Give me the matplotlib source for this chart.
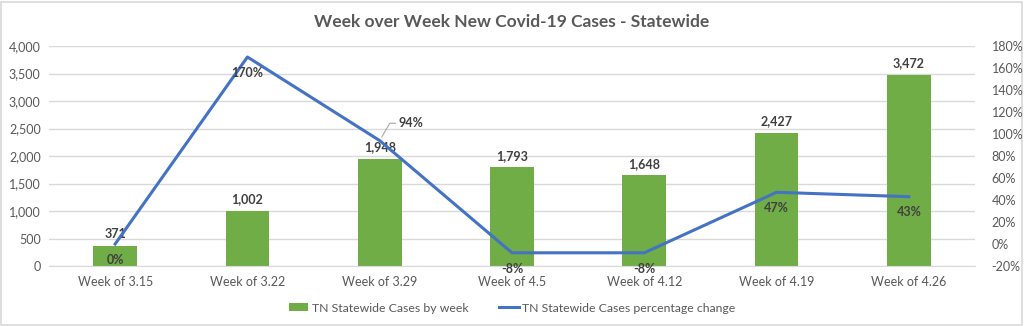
import matplotlib
matplotlib.use("Agg")
import matplotlib.pyplot as plt
from matplotlib.patches import Rectangle
from matplotlib.ticker import FuncFormatter

categories = ["Week of 3.15", "Week of 3.22", "Week of 3.29", "Week of 4.5",
              "Week of 4.12", "Week of 4.19", "Week of 4.26"]
cases = [371, 1002, 1948, 1793, 1648, 2427, 3472]
pct_change = [0, 170, 94, -8, -8, 47, 43]
left_ticks = [0, 500, 1000, 1500, 2000, 2500, 3000, 3500, 4000]
right_ticks = [-20, 0, 20, 40, 60, 80, 100, 120, 140, 160, 180]

FONT = ["Lato", "DejaVu Sans"]
plt.rcParams['font.family'] = FONT
TXT = "#595959"
LBL = "#404040"
GREEN = "#70AD47"
BLUE = "#4472C4"
GRID = "#D9D9D9"

fig = plt.figure(figsize=(10.24, 3.26), dpi=100)
W, H = 1024, 326
ax = fig.add_axes([49 / W, (H - 266) / H, (975 - 49) / W, (266 - 46) / H])
ax2 = ax.twinx()

x = list(range(len(categories)))
bars = ax.bar(x, cases, width=0.33, color=GREEN, zorder=2,
              label="TN Statewide Cases by week")
ax.set_ylim(0, 4000)
ax.set_xlim(-0.5, len(categories) - 0.5)
ax.set_yticks(left_ticks)
ax.yaxis.set_major_formatter(FuncFormatter(lambda v, p: f"{int(v):,}"))
ax.set_xticks(x)
ax.set_xticklabels(categories)
ax.grid(axis="y", color=GRID, linewidth=1, zorder=0)
ax.set_axisbelow(True)
for s in ["top", "left", "right"]:
    ax.spines[s].set_visible(False)
ax.spines["bottom"].set_color(GRID)
ax.tick_params(axis="both", length=0, colors=TXT, labelsize=9)
ax.tick_params(axis="x", pad=7)
ax.tick_params(axis="y", pad=6)

line, = ax2.plot(x, pct_change, color=BLUE, linewidth=2.2, zorder=3,
                 label="TN Statewide Cases percentage change")
ax2.set_ylim(-20, 180)
ax2.set_yticks(right_ticks)
ax2.yaxis.set_major_formatter(FuncFormatter(lambda v, p: f"{int(v)}%"))
for s in ["top", "left", "right", "bottom"]:
    ax2.spines[s].set_visible(False)
ax2.tick_params(axis="y", length=0, colors=TXT, labelsize=9, pad=12)
ax.set_zorder(1)
ax2.set_zorder(2)
ax.patch.set_visible(False)

for xi, v in zip(x, cases):
    ax.annotate(f"{v:,}", (xi, v), xytext=(0, 4), textcoords="offset points",
                ha="center", va="bottom", fontsize=9, color=LBL, fontweight="bold")

for xi, v in zip(x, pct_change):
    if v == 94:
        ax2.annotate(f"{v}%", (xi, v), xytext=(13.5, 12.5), textcoords="offset points",
                     ha="left", va="center", fontsize=9, color=LBL, fontweight="bold",
                     arrowprops=dict(arrowstyle="-", color="#A6A6A6", lw=0.8,
                                     shrinkA=0, shrinkB=3,
                                     connectionstyle="angle,angleA=0,angleB=60,rad=0"))
    else:
        ax2.annotate(f"{v}%", (xi, v), xytext=(0, -7), textcoords="offset points",
                     ha="center", va="top", fontsize=9, color=LBL, fontweight="bold")

fig.text(0.5, 1 - 22 / H, "Week over Week New Covid-19 Cases - Statewide",
         ha="center", va="center", fontsize=12.5, fontweight="bold", color=TXT)

fig.legend(handles=[bars, line], loc="center", bbox_to_anchor=(0.5, 1 - 308 / H),
           ncol=2, frameon=False, fontsize=8.8, labelcolor=TXT,
           handlelength=1.6, handleheight=0.6, columnspacing=2.5, handletextpad=0.3)

fig.patches.append(Rectangle((1 / W, 1 / H), (W - 3) / W, (H - 3) / H,
                             transform=fig.transFigure, fill=False,
                             edgecolor=GRID, linewidth=1.2))

fig.savefig("out.png", dpi=100)
